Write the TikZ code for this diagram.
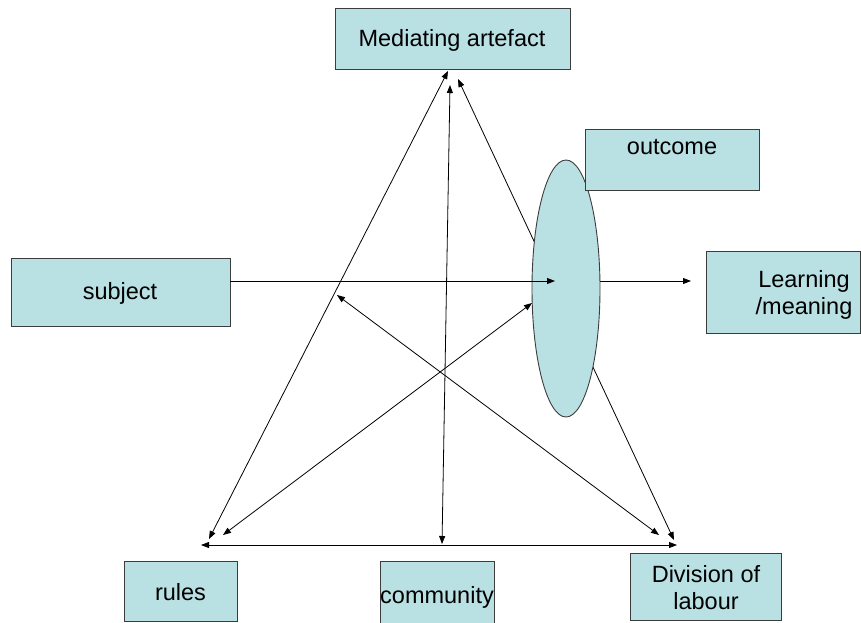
\documentclass[tikz,border=0pt]{standalone}
\usepackage{fontspec}
\setmainfont{Liberation Sans}
\usetikzlibrary{arrows.meta,shapes.geometric}
\definecolor{boxfill}{RGB}{185,224,227}
\definecolor{boxline}{RGB}{60,60,60}
\begin{document}
\begin{tikzpicture}[x=1pt,y=-1pt,
  box/.style={draw=boxline,fill=boxfill,line width=0.9pt,inner sep=0pt},
  lbl/.style={font=\fontsize{23.5}{27}\selectfont,align=center,inner sep=0pt},
  conn/.style={line width=0.8pt,-{Triangle[length=8pt,width=6pt]}},
  dconn/.style={line width=0.8pt,{Triangle[length=8pt,width=6pt]}-{Triangle[length=8pt,width=6pt]}}]
\useasboundingbox (0,0) rectangle (861,623);
\clip (0,0) rectangle (861,623);
% boxes
\node[box,minimum width=235pt,minimum height=61pt] (ma) at (452.5,38.5) {};
\node[lbl] (matext) at (452,40) {Mediating artefact};
\node[box,minimum width=219pt,minimum height=68pt] (subject) at (120.5,292) {};
\node[lbl] (subjecttext) at (120,293) {subject};
\node[box,minimum width=154pt,minimum height=82pt] (learn) at (783,292) {};
\node[lbl] (learntext) at (804,295) {Learning\\/meaning};
\node[box,minimum width=113pt,minimum height=60pt] (rules) at (180.5,591) {};
\node[lbl] (rulestext) at (180.5,592) {rules};
\node[box,minimum width=114pt,minimum height=72pt] (comm) at (437,597) {};
\node[lbl] (commtext) at (437,597) {community};
\node[box,minimum width=151pt,minimum height=67pt] (dol) at (705.5,586.5) {};
\node[lbl] (doltext) at (706,588) {Division of\\labour};
% coordinates
\coordinate (rl1) at (209,539);
\coordinate (ma1) at (448,71);
\coordinate (cm1) at (442,544);
\coordinate (ma2) at (450,85);
\coordinate (ma3) at (458,79);
\coordinate (dl1) at (674,540);
\coordinate (hl) at (201,545);
\coordinate (hr) at (677,545);
\coordinate (xa) at (337,295);
\coordinate (dl2) at (659,535);
\coordinate (rl2) at (223,535);
\coordinate (el1) at (532,303);
\coordinate (s0) at (230,281);
\coordinate (s1) at (555,281);
\coordinate (e0) at (600,281);
\coordinate (lm) at (691,281);
% line behind ellipse
\draw[dconn] (ma3) -- (dl1);
% ellipse
\node[box,ellipse,minimum width=68pt,minimum height=257pt] (ell) at (566,288.5) {};
% outcome box on top
\node[box,minimum width=174pt,minimum height=61pt] (outcome) at (672,159.5) {};
\node[lbl] (outcometext) at (672,147) {outcome};
% connectors
\draw[dconn] (rl1) -- (ma1);
\draw[dconn] (cm1) -- (ma2);
\draw[dconn] (hl) -- (hr);
\draw[dconn] (xa) -- (dl2);
\draw[dconn] (rl2) -- (el1);
\draw[conn] (s0) -- (s1);
\draw[conn] (e0) -- (lm);
\end{tikzpicture}
\end{document}
